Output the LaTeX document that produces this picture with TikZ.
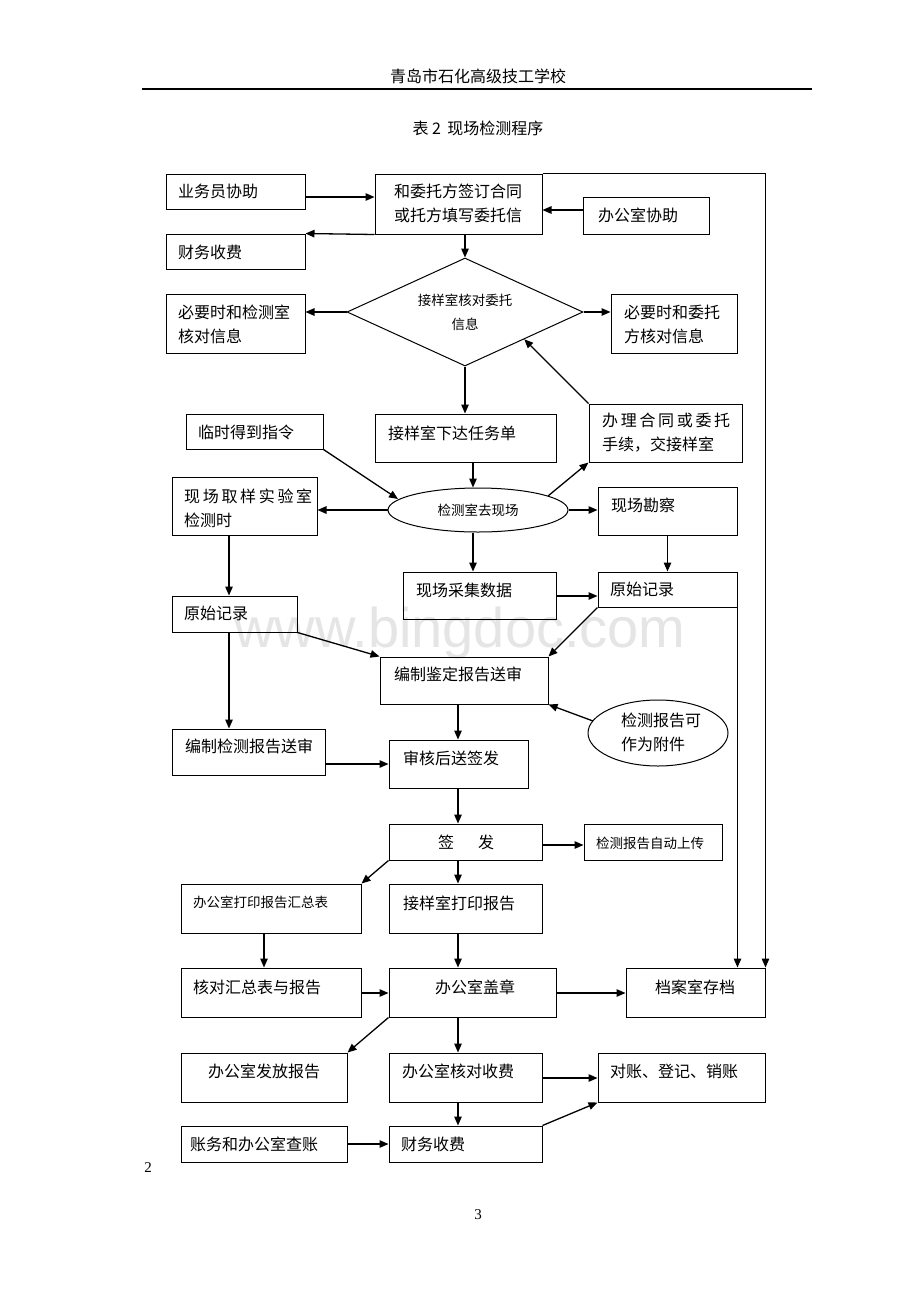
\documentclass[tikz,border=0pt]{standalone}
\usepackage{fontspec}
\setmainfont{Liberation Serif}
\newfontfamily\cjk{Noto Sans CJK SC}
\newfontfamily\wmfont{Liberation Sans}
\usetikzlibrary{arrows.meta,shapes.geometric,fit,calc}
\begin{document}
\begin{tikzpicture}[x=1pt,y=-1pt,
  box/.style={draw, line width=1pt, inner sep=0pt},
  txt/.style={font=\cjk\fontsize{16}{24}\selectfont, inner sep=0pt, anchor=west, align=left},
  ctxt/.style={font=\cjk\fontsize{16}{24}\selectfont, inner sep=0pt, align=center},
  stxt/.style={font=\cjk\fontsize{13.5}{24}\selectfont, inner sep=0pt, align=center},
  arr/.style={-{Triangle[length=9pt,width=7.5pt]}, line width=1.3pt}]
\useasboundingbox[fill=white] (0,0) rectangle (920,1302);
% watermark
\node[font=\wmfont\fontsize{56}{56}\selectfont, text=black!10, inner sep=0pt] (wmk) at (460,633) {www.bingdoc.com};
% header
\node[ctxt] (hdr) at (478,76) {青岛市石化高级技工学校};
\draw[line width=1.6pt] (142,89) -- (812,89);
\node[ctxt] (ttl) at (478,128) {表 2\, 现场检测程序};
\node[font=\fontsize{15}{18}\selectfont, inner sep=0pt] (p2) at (148,1168) {2};
\node[font=\fontsize{15}{18}\selectfont, inner sep=0pt] (p3) at (478,1215) {3};

% boxes
\node[box, fit={(166,174)(305,209)}] (yw) {};
\node[txt] (ywt) at (178,191) {业务员协助};
\node[box, fit={(375,174)(542,234)}] (ht) {};
\node[ctxt] (htt) at (458,203) {和委托方签订合同\\或托方填写委托信};
\node[box, fit={(583,197)(709,234)}] (bg) {};
\node[txt] (bgt) at (598,215) {办公室协助};
\node[box, fit={(166,234)(305,269)}] (cw1) {};
\node[txt] (cw1t) at (178,252) {财务收费};

\node[draw, diamond, line width=1pt, inner sep=0pt, minimum width=236pt, minimum height=108pt] (dm) at (465,312) {};
\node[stxt] (dmt) at (465,312) {接样室核对委托\\信息};
\node[box, fit={(166,294)(305,353)}] (bj) {};
\node[txt] (bjt) at (178,324) {必要时和检测室\\核对信息};
\node[box, fit={(611,294)(737,353)}] (bw) {};
\node[txt] (bwt) at (624,324) {必要时和委托\\方核对信息};

\node[box, fit={(375,414)(556,462)}] (xd) {};
\node[txt] (xdt) at (388,433) {接样室下达任务单};
\node[box, fit={(589,404)(742,462)}] (bl) {};
\node[txt] (blt) at (602,433) {办\,理\,合\,同\,或\,委\,托\\手续，交接样室};
\node[box, fit={(186,414)(323,449)}] (ls) {};
\node[txt] (lst) at (198,432) {临时得到指令};

\node[draw, ellipse, line width=1pt, inner sep=0pt, minimum width=180pt, minimum height=44pt, font=\cjk\fontsize{13.5}{16}\selectfont] (jc) at (478,510) {检测室去现场};
\node[box, fit={(172,477)(317,535)}] (qy) {};
\node[txt] (qyt) at (184,508) {现\,场\,取\,样\,实\,验\,室\\检测时};
\node[box, fit={(598,487)(737,535)}] (kc) {};
\node[txt] (kct) at (611,505) {现场勘察};

\node[box, fit={(403,572)(556,619)}] (cj) {};
\node[txt] (cjt) at (416,590) {现场采集数据};
\node[box, fit={(598,572)(737,607)}] (yr) {};
\node[txt] (yrt) at (610,589) {原始记录};
\node[box, fit={(172,596)(297,632)}] (yl) {};
\node[txt] (ylt) at (184,613) {原始记录};

\node[box, fit={(380,657)(548,704)}] (bz) {};
\node[txt] (bzt) at (394,674) {编制鉴定报告送审};
\node[draw, ellipse, line width=1pt, inner sep=0pt, minimum width=140pt, minimum height=66pt] (fj) at (658,733) {};
\node[txt] (fjt) at (621,732) {检测报告可\\作为附件};
\node[box, fit={(172,729)(325,775)}] (bc) {};
\node[txt] (bct) at (185,746) {编制检测报告送审};
\node[box, fit={(389,740)(528,788)}] (sh) {};
\node[txt] (sht) at (403,758) {审核后送签发};

\node[box, fit={(389,824)(542,860)}] (qf) {};
\node[ctxt] (qft) at (466,842) {签\hspace{24pt}发};
\node[box, fit={(584,824)(722,860)}] (sc) {};
\node[stxt, anchor=west] (sct) at (596,843) {检测报告自动上传};

\node[box, fit={(181,884)(361,933)}] (dy) {};
\node[stxt, anchor=west] (dyt) at (193,902) {办公室打印报告汇总表};
\node[box, fit={(389,884)(542,933)}] (jd) {};
\node[txt] (jdt) at (403,903) {接样室打印报告};

\node[box, fit={(181,968)(361,1017)}] (hz) {};
\node[txt] (hzt) at (193,987) {核对汇总表与报告};
\node[box, fit={(389,968)(556,1017)}] (gz) {};
\node[ctxt] (gzt) at (475,987) {办公室盖章};
\node[box, fit={(626,968)(765,1017)}] (da) {};
\node[ctxt] (dat) at (695,987) {档案室存档};

\node[box, fit={(181,1053)(347,1102)}] (ff) {};
\node[ctxt] (fft) at (264,1071) {办公室发放报告};
\node[box, fit={(389,1053)(542,1102)}] (hs) {};
\node[txt] (hst) at (402,1071) {办公室核对收费};
\node[box, fit={(598,1053)(765,1102)}] (dz) {};
\node[txt] (dzt) at (610,1071) {对账、登记、销账};

\node[box, fit={(181,1126)(347,1162)}] (zw) {};
\node[txt] (zwt) at (190,1144) {账务和办公室查账};
\node[box, fit={(389,1126)(542,1162)}] (cw2) {};
\node[txt] (cw2t) at (401,1144) {财务收费};

% connectors
\draw[arr] (yw.east |- 0,197) -- (ht.west |- 0,197);
\draw[arr] (bg.west |- 0,210) -- (ht.east |- 0,210);
\draw[arr] (ht.south west) -- (cw1.north east);
\draw[arr] (dm.north |- ht.south) -- (dm.north);
\draw[arr] (ht.north east) -| (da.north east);
\draw[arr] (dm.west) -- (dm.west -| bj.east);
\draw[arr] (dm.east) -- (dm.east -| bw.west);
\draw[arr] (dm.south) -- (dm.south |- xd.north);
\draw[arr] (bl.north west) -- ($(dm.east)!0.5!(dm.south)$);
\draw[arr] (ls.south east) -- ($(jc.center)+(-80,-11)$);
\draw[arr] ($(jc.center)+(70,-14)$) -- (bl.south west);
\draw[arr] (xd.south -| 473,0) -- (jc.north -| 473,0);
\draw[arr] (jc.west) -- (jc.west -| qy.east);
\draw[arr] (jc.east) -- (jc.east -| kc.west);
\draw[arr] (jc.south -| 473,0) -- (cj.north -| 473,0);
\draw[arr] (kc.south) -- (kc.south |- yr.north);
\draw[arr] (cj.east |- 0,596) -- (yr.west |- 0,596);
\draw[arr] (yr.south west) -- (bz.north east);
\draw[arr] (yr.south east) -- (yr.south east |- da.north);
\draw[arr] (qy.south -| 229,0) -- (yl.north -| 229,0);
\draw[arr] (yl.south east) -- (bz.north west);
\draw[arr] (yl.south -| 229,0) -- (bc.north -| 229,0);
\draw[arr] (bc.east |- 0,764) -- (sh.west |- 0,764);
\draw[arr] (bz.south -| 458,0) -- (sh.north -| 458,0);
\draw[arr] ($(fj.center)+(-65,-12)$) -- (bz.south east);
\draw[arr] (sh.south -| 458,0) -- (qf.north -| 458,0);
\draw[arr] (qf.east |- 0,845) -- (sc.west |- 0,845);
\draw[arr] (qf.south west) -- (dy.north east);
\draw[arr] (qf.south -| 458,0) -- (jd.north -| 458,0);
\draw[arr] (dy.south -| 264,0) -- (hz.north -| 264,0);
\draw[arr] (jd.south -| 458,0) -- (gz.north -| 458,0);
\draw[arr] (hz.east |- 0,993) -- (gz.west |- 0,993);
\draw[arr] (gz.east |- 0,993) -- (da.west |- 0,993);
\draw[arr] (gz.south west) -- (ff.north east);
\draw[arr] (gz.south -| 458,0) -- (hs.north -| 458,0);
\draw[arr] (hs.east |- 0,1078) -- (dz.west |- 0,1078);
\draw[arr] (hs.south -| 458,0) -- (cw2.north -| 458,0);
\draw[arr] (zw.east |- 0,1144) -- (cw2.west |- 0,1144);
\draw[arr] (cw2.north east) -- (dz.south west);
\end{tikzpicture}
\end{document}
